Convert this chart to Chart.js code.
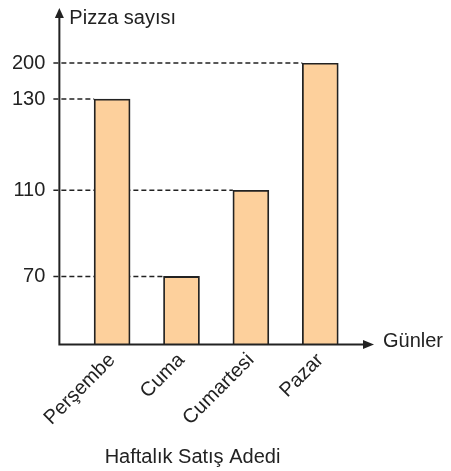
<!DOCTYPE html>
<html>
<head>
<meta charset="utf-8">
<script src="https://cdn.jsdelivr.net/npm/chart.js@4"></script>
<style>
  html, body { margin: 0; padding: 0; background: #fff; }
  #wrap { width: 451px; height: 471px; }
</style>
</head>
<body>
<div id="wrap"><canvas id="chart"></canvas></div>
<script>
const days = ["Perşembe", "Cuma", "Cumartesi", "Pazar"];
const pizzaCounts = [130, 70, 110, 200];
const yTickValues = [70, 110, 130, 200];
const yAxisTitle = "Pizza sayısı";
const xAxisTitle = "Günler";
const chartTitle = "Haftalık Satış Adedi";

// the source drawing is not to scale, so each tick sits where the picture puts it
// (share of the axis height, bottom = 0)
const tickPlacement = [0.242, 0.548, 0.872, 1];

const ink = "#222";
const font = { family: "'Liberation Sans', Arial, sans-serif", size: 20 };

class SketchScale extends Chart.LinearScale {
    static id = "sketch";
    static defaults = Chart.LinearScale.defaults;

    toDecimal(v) {
        const vals = [0, ...yTickValues];
        const fr = [0, ...tickPlacement];
        if (v <= vals[0]) return 0;
        for (let i = 1; i < vals.length; i++) {
            if (v <= vals[i]) {
                return fr[i - 1] + (v - vals[i - 1]) / (vals[i] - vals[i - 1]) * (fr[i] - fr[i - 1]);
            }
        }
        return 1;
    }

    getPixelForValue(v) {
        return this.getPixelForDecimal(this.toDecimal(v));
    }

    getValueForPixel(p) {
        const d = this.getDecimalForPixel(p);
        const vals = [0, ...yTickValues];
        const fr = [0, ...tickPlacement];
        for (let i = 1; i < fr.length; i++) {
            if (d <= fr[i]) {
                return vals[i - 1] + (d - fr[i - 1]) / (fr[i] - fr[i - 1]) * (vals[i] - vals[i - 1]);
            }
        }
        return vals[vals.length - 1];
    }
}
Chart.register(SketchScale);

const sketchAxes = {
    id: "sketchAxes",
    beforeDatasetsDraw(chart) {
        const { ctx, chartArea: a } = chart;
        const bars = chart.getDatasetMeta(0).data;
        ctx.save();
        ctx.strokeStyle = ink;
        ctx.lineWidth = 1.4;
        ctx.setLineDash([5, 3]);
        bars.forEach(b => {
            ctx.beginPath();
            ctx.moveTo(a.left - 6, b.y);
            ctx.lineTo(b.x - b.width / 2, b.y);
            ctx.stroke();
        });
        ctx.restore();
    },
    afterDatasetsDraw(chart) {
        const { ctx, chartArea: a } = chart;
        const tipY = a.top - 55;
        const tipX = a.right + 1;
        ctx.save();
        ctx.strokeStyle = ink;
        ctx.fillStyle = ink;
        ctx.lineWidth = 2;

        ctx.beginPath();
        ctx.moveTo(a.left, a.bottom);
        ctx.lineTo(a.left, tipY + 6);
        ctx.moveTo(a.left - 1, a.bottom);
        ctx.lineTo(tipX - 6, a.bottom);
        ctx.stroke();

        ctx.beginPath();
        ctx.moveTo(a.left, tipY);
        ctx.lineTo(a.left - 4.5, tipY + 10);
        ctx.lineTo(a.left + 4.5, tipY + 10);
        ctx.closePath();
        ctx.fill();

        ctx.beginPath();
        ctx.moveTo(tipX, a.bottom);
        ctx.lineTo(tipX - 11, a.bottom - 4.5);
        ctx.lineTo(tipX - 11, a.bottom + 4.5);
        ctx.closePath();
        ctx.fill();

        ctx.font = `${font.size}px ${font.family}`;
        ctx.textBaseline = "middle";
        ctx.textAlign = "left";
        ctx.fillText(yAxisTitle, a.left + 10, tipY + 10);
        ctx.fillText(xAxisTitle, a.right + 10, a.bottom - 3);
        ctx.restore();
    }
};

new Chart(document.getElementById("chart"), {
    type: "bar",
    data: {
        datasets: [{
            data: pizzaCounts.map((v, i) => ({ x: i, y: v })),
            backgroundColor: "#fdd09c",
            borderColor: ink,
            borderWidth: 1.8,
            barThickness: 36
        }]
    },
    options: {
        responsive: true,
        maintainAspectRatio: false,
        animation: false,
        layout: { padding: { left: 12, right: 78, top: 63, bottom: 0 } },
        plugins: {
            legend: { display: false },
            tooltip: { enabled: false },
            title: {
                display: true,
                position: "bottom",
                text: chartTitle,
                color: ink,
                font: { ...font, weight: "normal" },
                padding: { top: 11, bottom: 2 }
            }
        },
        scales: {
            x: {
                type: "linear",
                offset: false,
                min: -0.76,
                max: 3.76,
                afterBuildTicks: s => { s.ticks = days.map((_, i) => ({ value: i })); },
                afterFit: s => { s.paddingLeft = 0; s.paddingRight = 0; },
                grid: { display: false, drawTicks: false },
                border: { display: false },
                ticks: {
                    callback: v => days[v],
                    autoSkip: false,
                    minRotation: 45,
                    maxRotation: 45,
                    padding: 4,
                    color: ink,
                    font
                }
            },
            y: {
                type: "sketch",
                min: 0,
                max: 200,
                afterBuildTicks: s => { s.ticks = yTickValues.map(v => ({ value: v })); },
                // chart.js counts the tick padding twice; keep only the gap next to the axis
                afterFit: s => { s.width -= 14; },
                grid: { display: false, drawTicks: false },
                border: { display: false },
                ticks: {
                    padding: 14,
                    color: ink,
                    font
                }
            }
        }
    },
    plugins: [sketchAxes]
});
</script>
</body>
</html>
